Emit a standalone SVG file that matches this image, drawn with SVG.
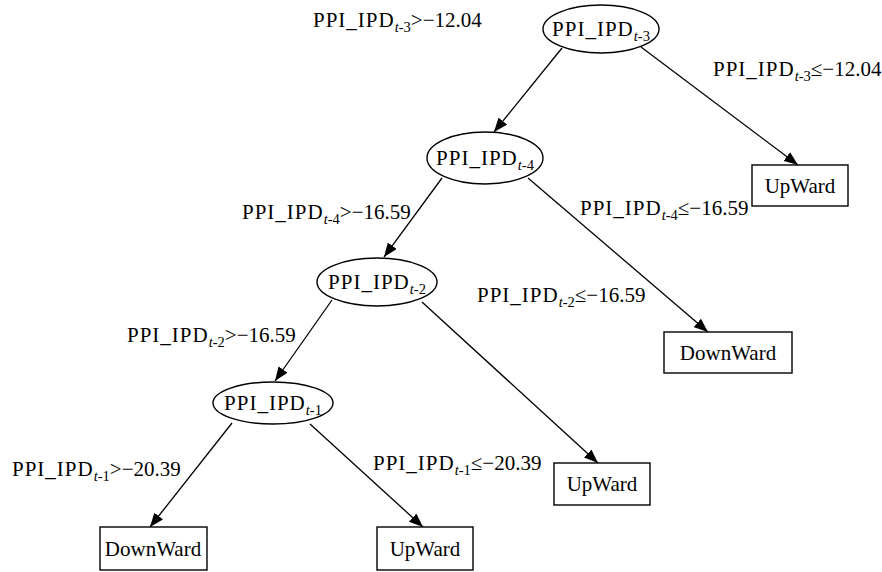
<svg xmlns="http://www.w3.org/2000/svg" width="882" height="572" viewBox="0 0 882 572">
<defs>
<style>
text{font-family:"Liberation Serif","Times New Roman",serif;font-size:21px;fill:#000}
.m{letter-spacing:1px}
.s{font-size:14.5px}
.c{text-anchor:middle}
.n ellipse,.n rect{fill:#fff;stroke:#000;stroke-width:1.4}
.e line{stroke:#000;stroke-width:1.3;marker-end:url(#ah)}
</style>
<marker id="ah" viewBox="0 0 14 11" refX="14" refY="5.5" markerWidth="14" markerHeight="11" markerUnits="userSpaceOnUse" orient="auto">
<path d="M0,0 L14,5.5 L0,11 z" fill="#000"/>
</marker>
</defs>
<rect x="0" y="0" width="882" height="572" fill="#fff"/>
<g class="e" id="connectors">
<line x1="562" y1="48" x2="494" y2="132"/>
<line x1="641" y1="47" x2="798" y2="165"/>
<line x1="442" y1="178" x2="384" y2="257"/>
<line x1="528" y1="178" x2="708" y2="332"/>
<line x1="332" y1="300" x2="275" y2="381"/>
<line x1="422" y1="302" x2="598" y2="463"/>
<line x1="232" y1="423" x2="150" y2="527"/>
<line x1="310" y1="424" x2="423" y2="527"/>
</g>
<g id="labels">
<text x="313" y="27"><tspan class="m">PPI_IPD</tspan><tspan class="s" dy="5"><tspan font-style="italic">t</tspan>-3</tspan><tspan dy="-5">&gt;−12.04</tspan></text>
<text x="713" y="76"><tspan class="m">PPI_IPD</tspan><tspan class="s" dy="5"><tspan font-style="italic">t</tspan>-3</tspan><tspan dy="-5">≤−12.04</tspan></text>
<text x="242" y="219"><tspan class="m">PPI_IPD</tspan><tspan class="s" dy="5"><tspan font-style="italic">t</tspan>-4</tspan><tspan dy="-5">&gt;−16.59</tspan></text>
<text x="580" y="215"><tspan class="m">PPI_IPD</tspan><tspan class="s" dy="5"><tspan font-style="italic">t</tspan>-4</tspan><tspan dy="-5">≤−16.59</tspan></text>
<text x="477" y="302"><tspan class="m">PPI_IPD</tspan><tspan class="s" dy="5"><tspan font-style="italic">t</tspan>-2</tspan><tspan dy="-5">≤−16.59</tspan></text>
<text x="127" y="342"><tspan class="m">PPI_IPD</tspan><tspan class="s" dy="5"><tspan font-style="italic">t</tspan>-2</tspan><tspan dy="-5">&gt;−16.59</tspan></text>
<text x="12" y="476"><tspan class="m">PPI_IPD</tspan><tspan class="s" dy="5"><tspan font-style="italic">t</tspan>-1</tspan><tspan dy="-5">&gt;−20.39</tspan></text>
<text x="373" y="470"><tspan class="m">PPI_IPD</tspan><tspan class="s" dy="5"><tspan font-style="italic">t</tspan>-1</tspan><tspan dy="-5">≤−20.39</tspan></text>
</g>
<g id="n_t3" class="n">
<ellipse cx="601" cy="29" rx="58" ry="24"/>
<text class="c" x="601" y="36"><tspan class="m">PPI_IPD</tspan><tspan class="s" dy="5"><tspan font-style="italic">t</tspan>-3</tspan></text>
</g>
<g id="n_up1" class="n">
<rect x="752" y="165" width="96" height="41"/>
<text class="c" x="800" y="193">UpWard</text>
</g>
<g id="n_t4" class="n">
<ellipse cx="485" cy="158" rx="58" ry="26"/>
<text class="c" x="485" y="165"><tspan class="m">PPI_IPD</tspan><tspan class="s" dy="5"><tspan font-style="italic">t</tspan>-4</tspan></text>
</g>
<g id="n_t2" class="n">
<ellipse cx="377" cy="282" rx="60" ry="24"/>
<text class="c" x="377" y="289"><tspan class="m">PPI_IPD</tspan><tspan class="s" dy="5"><tspan font-style="italic">t</tspan>-2</tspan></text>
</g>
<g id="n_down1" class="n">
<rect x="664" y="332" width="128" height="41"/>
<text class="c" x="728" y="360">DownWard</text>
</g>
<g id="n_t1" class="n">
<ellipse cx="273" cy="403" rx="60" ry="21"/>
<text class="c" x="273" y="410"><tspan class="m">PPI_IPD</tspan><tspan class="s" dy="5"><tspan font-style="italic">t</tspan>-1</tspan></text>
</g>
<g id="n_up2" class="n">
<rect x="554" y="463" width="96" height="42"/>
<text class="c" x="602" y="491">UpWard</text>
</g>
<g id="n_down2" class="n">
<rect x="100" y="527" width="107" height="43"/>
<text class="c" x="153" y="556">DownWard</text>
</g>
<g id="n_up3" class="n">
<rect x="377" y="527" width="96" height="43"/>
<text class="c" x="425" y="556">UpWard</text>
</g>
</svg>
